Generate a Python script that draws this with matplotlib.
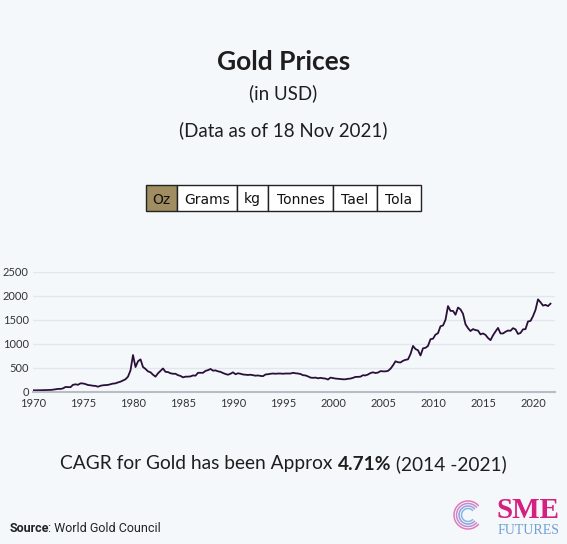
import numpy as np
import matplotlib.pyplot as plt
from matplotlib.patches import Rectangle, Arc

# quarterly gold price, USD/oz
years = np.arange(1970, 2022, 0.25)
prices = [
    35, 35, 36, 37,
    38, 40, 42, 43,
    48, 57, 65, 64,
    75, 105, 103, 100,
    150, 160, 150, 180,
    178, 165, 145, 140,
    130, 127, 110, 130,
    140, 145, 148, 162,
    175, 180, 200, 215,
    240, 265, 320, 450,
    770, 520, 640, 680,
    520, 480, 430, 410,
    360, 320, 390, 440,
    490, 420, 415, 390,
    380, 380, 350, 335,
    305, 320, 320, 325,
    345, 340, 400, 400,
    400, 440, 455, 480,
    445, 450, 430, 420,
    395, 375, 360, 380,
    410, 370, 390, 380,
    365, 360, 355, 360,
    350, 340, 345, 335,
    330, 365, 370, 380,
    385, 380, 385, 385,
    380, 385, 385, 385,
    400, 390, 385, 375,
    350, 345, 325, 300,
    295, 300, 285, 295,
    285, 280, 260, 300,
    290, 280, 275, 270,
    265, 265, 275, 280,
    295, 315, 315, 320,
    350, 345, 365, 395,
    410, 395, 405, 435,
    430, 430, 440, 485,
    555, 640, 620, 615,
    650, 670, 680, 790,
    960, 895, 870, 760,
    910, 920, 960, 1100,
    1110, 1195, 1225, 1370,
    1385, 1505, 1790, 1690,
    1690, 1610, 1760, 1720,
    1630, 1410, 1330, 1270,
    1310, 1290, 1280, 1200,
    1220, 1190, 1125, 1080,
    1180, 1260, 1335, 1220,
    1220, 1255, 1280, 1275,
    1330, 1305, 1210, 1230,
    1305, 1310, 1470, 1480,
    1580, 1710, 1930, 1870,
    1800, 1815, 1790, 1840,
]
units = ["Oz", "Grams", "kg", "Tonnes", "Tael", "Tola"]
yticks = [0, 500, 1000, 1500, 2000, 2500]
xticks = list(range(1970, 2021, 5))

W, H = 567, 544
BG = "#f5f8fb"
FONT = ["Lato", "DejaVu Sans"]

fig = plt.figure(figsize=(W / 100, H / 100), dpi=100, facecolor=BG)


def fx(px):
    return px / W


def fy(py):
    return 1 - py / H


# titles
fig.text(0.5, fy(62), "Gold Prices", ha="center", va="center",
         fontsize=19, fontweight="bold", family=FONT, color="#1e1e1e")
fig.text(0.5, fy(93), "(in USD)", ha="center", va="center",
         fontsize=13.5, family=FONT, color="#1e1e1e")
fig.text(0.5, fy(130), "(Data as of 18 Nov 2021)", ha="center", va="center",
         fontsize=13.5, family=FONT, color="#1e1e1e")

# unit buttons
edges = [146, 177, 237, 268, 333, 377, 421]
for i, u in enumerate(units):
    x0, x1 = edges[i], edges[i + 1]
    fc = "#a08e62" if i == 0 else "white"
    fig.patches.append(Rectangle((fx(x0), fy(211)), fx(x1 - x0), 26 / H,
                                 transform=fig.transFigure, facecolor=fc,
                                 edgecolor="#222222", linewidth=1.0))
    fig.text(fx((x0 + x1) / 2), fy(198), u, ha="center", va="center_baseline",
             fontsize=10, family="DejaVu Sans", color="#111111")

# chart
ax = fig.add_axes([fx(33), fy(392), fx(555 - 33), (392 - 272) / H])
ax.set_facecolor(BG)
ax.plot(years, prices, color="#2a1038", linewidth=1.3)
ax.set_xlim(1970, 2022.2)
ax.set_ylim(0, 2500)
ax.set_yticks(yticks)
ax.set_xticks(xticks)
ax.grid(axis="y", color="#e3e6ec", linewidth=1)
for s in ["top", "right", "left"]:
    ax.spines[s].set_visible(False)
ax.spines["bottom"].set_color("#b8bcc4")
ax.spines["bottom"].set_linewidth(1.5)
ax.tick_params(axis="y", length=0, labelsize=8, pad=3, labelcolor="#333333")
ax.tick_params(axis="x", length=0, labelsize=8, pad=4, labelcolor="#333333")
for lab in ax.get_xticklabels() + ax.get_yticklabels():
    lab.set_family(FONT)

# CAGR line with bold part
fig.canvas.draw()
r = fig.canvas.get_renderer()
parts = [("CAGR for Gold has been Approx ", "normal"), ("4.71%", "bold"),
         (" (2014 -2021)", "normal")]
texts = [fig.text(0, fy(464), p, fontsize=13.8, fontweight=w, family=FONT,
                  va="center", color="#1e1e1e") for p, w in parts]
widths = [t.get_window_extent(r).width for t in texts]
x = (W - sum(widths)) / 2
for t, w in zip(texts, widths):
    t.set_x(fx(x))
    x += w

# source
src = fig.text(fx(10), fy(528), "Source", fontsize=9, fontweight="bold",
               family=["Liberation Sans Narrow", "Roboto"], va="center", color="#222222")
sw = src.get_window_extent(r).width
fig.text(fx(9 + sw), fy(528), ": World Gold Council", fontsize=9,
         family=["Liberation Sans Narrow", "Roboto"], va="center", color="#222222")

# logo
lax = fig.add_axes([fx(453), 0, fx(114), fy(500)])
lax.set_xlim(0, 114)
lax.set_ylim(0, 44)
lax.axis("off")
for rad, col in [(14, "#e07bb8"), (11.5, "#c48ad0"), (9, "#a09ada"), (6.5, "#7fb8e8")]:
    lax.add_patch(Arc((15, 29), rad * 2, rad * 2, theta1=40, theta2=320,
                      color=col, linewidth=1.1))
lax.text(44, 33, "SME", fontsize=21, fontweight="bold", family="Liberation Serif",
         color="#d4207f", va="center", ha="left")
lax.text(45, 13, "FUTURES", fontsize=10, family="Liberation Serif",
         color="#6f9fd6", va="center", ha="left")

fig.savefig("out.png", dpi=100, facecolor=BG)
